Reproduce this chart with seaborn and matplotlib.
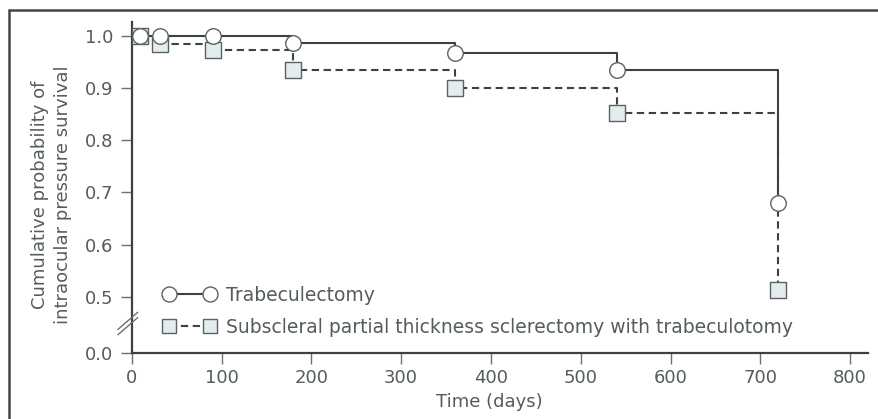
import matplotlib
matplotlib.use("Agg")
import matplotlib.pyplot as plt
from matplotlib.lines import Line2D
import seaborn as sns
import pandas as pd

# Kaplan-Meier style survival estimates (days, cumulative probability)
trab_days = [9, 31, 90, 180, 360, 540, 720]
trab_surv = [1.0, 1.0, 1.0, 0.987, 0.967, 0.934, 0.680]

sub_days = [9, 31, 90, 180, 360, 540, 720]
sub_surv = [1.0, 0.985, 0.974, 0.935, 0.900, 0.853, 0.512]

series_names = ["Trabeculectomy",
                "Subscleral partial thickness sclerectomy with trabeculotomy"]

x_ticks = [0, 100, 200, 300, 400, 500, 600, 700, 800]
y_tick_values = [0.5, 0.6, 0.7, 0.8, 0.9, 1.0]
y_break_floor = 0.392  # where the compressed "0.0" sits below the axis break

TEXT = "#555c5c"
INK = "#3a4242"
EDGE = "#5a6262"
SQUARE_FILL = "#e3eded"
DASH = (0, (3.5, 2.2))

sns.set_theme(style="white")
plt.rcParams["font.family"] = ["DejaVu Sans"]
plt.rcParams["text.color"] = TEXT
plt.rcParams["axes.labelcolor"] = TEXT
plt.rcParams["xtick.color"] = TEXT
plt.rcParams["ytick.color"] = TEXT

fig = plt.figure(figsize=(8.79, 4.19), dpi=100)
ax = fig.add_axes([0.150, 0.1575, 0.8375, 0.79])

trab = pd.DataFrame({"day": [0] + trab_days, "surv": [1.0] + trab_surv})
sub = pd.DataFrame({"day": [0] + sub_days, "surv": [1.0] + sub_surv})

sns.lineplot(data=sub, x="day", y="surv", ax=ax, estimator=None,
             drawstyle="steps-post", color=INK, lw=1.5,
             linestyle=DASH, zorder=2)
sns.lineplot(data=trab, x="day", y="surv", ax=ax, estimator=None,
             drawstyle="steps-post", color=INK, lw=1.5, zorder=3)

sns.scatterplot(x=sub_days, y=sub_surv, ax=ax, marker="s", s=118,
                color=SQUARE_FILL, edgecolor=EDGE, linewidth=1.0,
                zorder=4)
sns.scatterplot(x=trab_days, y=trab_surv, ax=ax, marker="o", s=125,
                color="white", edgecolor=EDGE, linewidth=1.0,
                zorder=5)

ax.set_xlim(0, 820)
ax.set_ylim(y_break_floor, 1.027)
ax.set_xticks(x_ticks)
ax.set_yticks([y_break_floor] + y_tick_values)
ax.set_yticklabels(["0.0"] + [f"{v:.1f}" for v in y_tick_values])

for side in ("top", "right"):
    ax.spines[side].set_visible(False)
for side in ("left", "bottom"):
    ax.spines[side].set_color(INK)
    ax.spines[side].set_linewidth(1.6)

ax.tick_params(axis="both", which="major", labelsize=13, length=7.7,
               width=1.0, color="#6a7272", direction="out",
               left=True, bottom=True)
ax.tick_params(axis="x", pad=3.5)
ax.tick_params(axis="y", pad=5.5)

ax.set_xlabel("Time (days)", fontsize=13)
ax.xaxis.set_label_coords(0.486, -0.121)
ax.set_ylabel("")
fig.text(0.0586, 0.535,
         "Cumulative probability of\nintraocular pressure survival",
         rotation=90, ha="center", va="center", fontsize=13,
         linespacing=1.3, multialignment="center", color=TEXT)

# axis break marks on the y spine
for off in (-0.008, 0.008):
    ax.plot([-0.019, 0.008], [0.063 + off, 0.115 + off],
            transform=ax.transAxes, color="#6a7272", lw=1.0,
            clip_on=False, zorder=6)

handles = [
    Line2D([], [], color=INK, lw=1.5, marker="o", markersize=10.8,
           markerfacecolor="white", markeredgecolor=EDGE,
           markeredgewidth=1.0),
    Line2D([], [], color=INK, lw=1.5, linestyle=DASH,
           marker="s", markersize=10.5, markerfacecolor=SQUARE_FILL,
           markeredgecolor=EDGE, markeredgewidth=1.0),
]
ax.legend(handles, series_names, loc="upper left",
          bbox_to_anchor=(0.0427, 0.203), frameon=False, fontsize=13.5,
          numpoints=2, handlelength=2.8, handletextpad=0.53,
          labelspacing=0.7, borderpad=0, borderaxespad=0)

# outer frame around the figure
fig.add_artist(Line2D([9 / 879, 9 / 879], [-0.1, 1 - 10 / 419],
                      transform=fig.transFigure, color="#404848", lw=1.8))
fig.add_artist(Line2D([9 / 879, 1.1], [1 - 10 / 419, 1 - 10 / 419],
                      transform=fig.transFigure, color="#404848", lw=1.8))

fig.savefig("out.png", dpi=100)
